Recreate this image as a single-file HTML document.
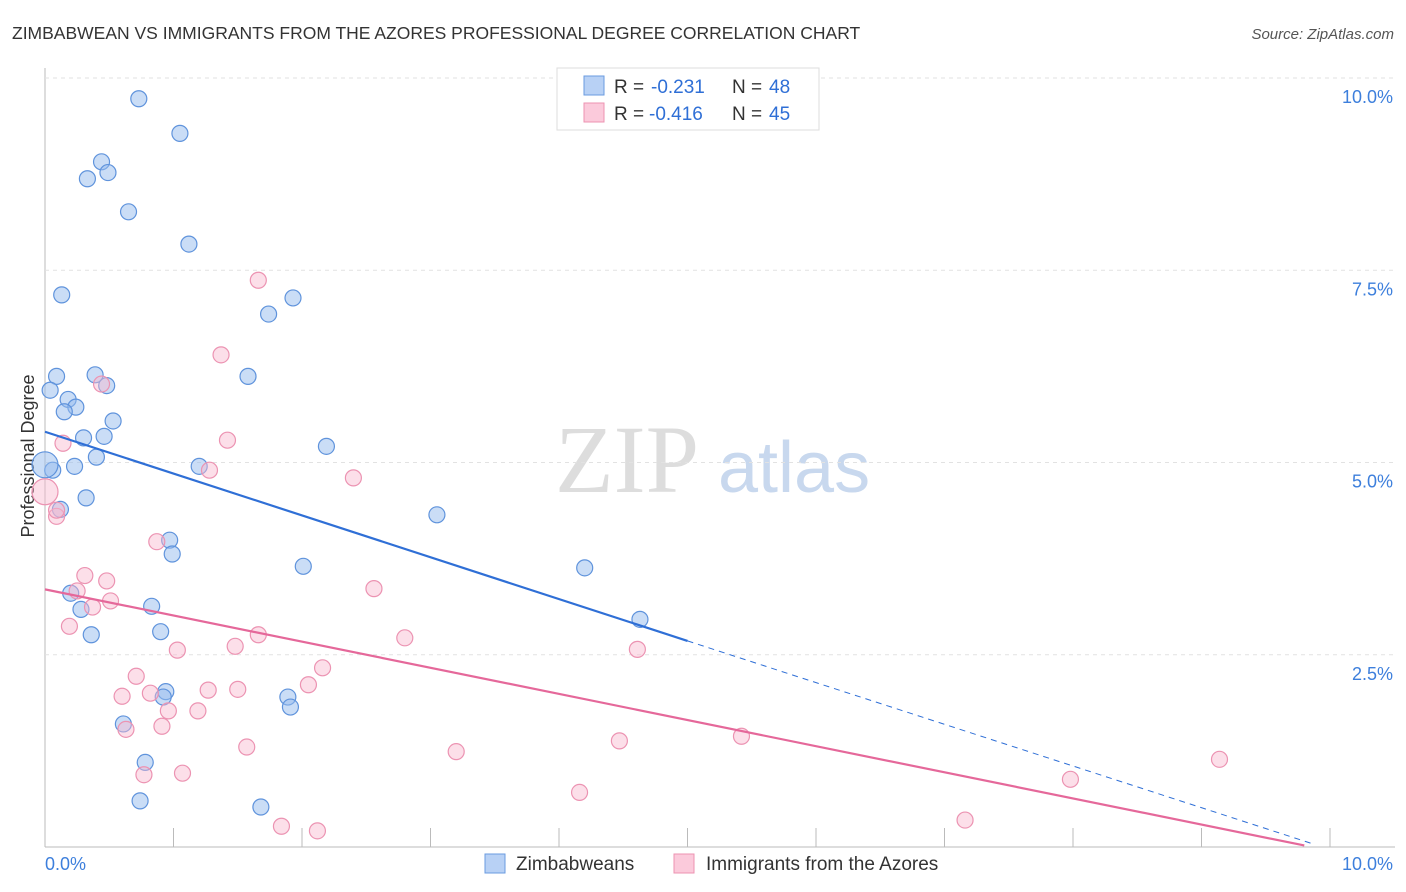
<!DOCTYPE html>
<html><head><meta charset="utf-8"><style>
body{margin:0;background:#fff;font-family:"Liberation Sans",sans-serif}
svg{display:block}
</style></head><body>
<svg id="chart" width="1406" height="892">
<text x="12" y="39" font-size="17.5" fill="#333">ZIMBABWEAN VS IMMIGRANTS FROM THE AZORES PROFESSIONAL DEGREE CORRELATION CHART</text>
<text x="1394" y="39" font-size="15" fill="#555" text-anchor="end" font-style="italic">Source: ZipAtlas.com</text>
<text x="555" y="492" font-size="96" fill="#ddd" font-family="Liberation Serif">ZIP</text>
<text x="718" y="492" font-size="72" fill="#c8d8ee">atlas</text>
<text transform="translate(34,456) rotate(-90)" font-size="18" fill="#333" text-anchor="middle">Professional Degree</text>
<g id="grid"></g><g id="pts"></g><g id="lines"></g>
<g>
<rect x="557" y="68" width="262" height="62" fill="#fff" stroke="#ddd"/>
<rect x="584" y="76" width="20" height="19" fill="#b8d1f5" stroke="#6a9be0"/>
<rect x="584" y="103" width="20" height="19" fill="#fbcadb" stroke="#ec93b2"/>
<text x="614" y="93" font-size="19" fill="#333">R =</text>
<text x="651" y="93" font-size="19" fill="#2f6fd6">-0.231</text>
<text x="732" y="93" font-size="19" fill="#333">N =</text>
<text x="769" y="93" font-size="19" fill="#2f6fd6">48</text>
<text x="614" y="120" font-size="19" fill="#333">R =</text>
<text x="649" y="120" font-size="19" fill="#2f6fd6">-0.416</text>
<text x="732" y="120" font-size="19" fill="#333">N =</text>
<text x="769" y="120" font-size="19" fill="#2f6fd6">45</text>
</g>
<g>
<rect x="485" y="854" width="20" height="19" fill="#b8d1f5" stroke="#6a9be0"/>
<text x="516" y="870" font-size="19" fill="#333">Zimbabweans</text>
<rect x="674" y="854" width="20" height="19" fill="#fbcadb" stroke="#ec93b2"/>
<text x="706" y="870" font-size="19" fill="#333">Immigrants from the Azores</text>
</g>
</svg>
<script>
const blueX=[0.73,1.05,0.44,0.33,0.49,0.65,1.12,0.13,1.93,1.74,0.09,0.39,0.48,0.04,0.18,0.24,0.15,0.53,0.30,0.46,2.19,0.40,0.23,0.06,1.20,0.32,0.12,3.05,0.97,0.99,2.01,4.20,0.20,0.28,0.83,4.63,0.36,0.90,0.94,0.92,1.89,1.91,0.61,0.78,0.74,1.68,1.58,0.0];
const blueY=[9.73,9.28,8.91,8.69,8.77,8.26,7.84,7.18,7.14,6.93,6.12,6.14,6.00,5.94,5.82,5.72,5.66,5.54,5.32,5.34,5.21,5.07,4.95,4.90,4.95,4.54,4.39,4.32,3.99,3.81,3.65,3.63,3.30,3.09,3.13,2.96,2.76,2.80,2.02,1.95,1.95,1.82,1.60,1.10,0.60,0.52,6.12,4.97];
const pinkX=[1.66,1.37,0.44,1.42,0.14,1.28,2.40,0.09,0.09,0.0,0.87,0.31,0.48,0.25,2.56,0.51,0.37,0.19,1.66,2.80,1.03,1.48,4.61,0.71,2.16,2.05,0.60,0.82,1.27,1.50,0.96,1.19,0.91,0.63,1.57,4.47,5.42,3.20,9.14,0.77,1.07,7.98,4.16,7.16,1.84,2.12];
const pinkY=[7.37,6.40,6.02,5.29,5.25,4.90,4.80,4.30,4.38,4.62,3.97,3.53,3.46,3.33,3.36,3.20,3.12,2.87,2.76,2.72,2.56,2.61,2.57,2.22,2.33,2.11,1.96,2.00,2.04,2.05,1.77,1.77,1.57,1.53,1.30,1.38,1.44,1.24,1.14,0.94,0.96,0.88,0.71,0.35,0.27,0.21];
const blueSize=[];blueSize[47]=13;
const pinkSize=[];pinkSize[9]=13;
const xTicks=[0,1,2,3,4,5,6,7,8,9,10];
const yTicks=[2.5,5.0,7.5,10.0];
const X=v=>45+v*128.5, Y=v=>847-v*76.9;
const NS="http://www.w3.org/2000/svg";
function mk(t,a,p){const e=document.createElementNS(NS,t);for(const k in a)e.setAttribute(k,a[k]);p.appendChild(e);return e;}
const g=document.getElementById('grid'),pts=document.getElementById('pts'),ln=document.getElementById('lines');
mk('line',{x1:45,y1:68,x2:45,y2:847,stroke:'#bbb'},g);
mk('line',{x1:45,y1:847,x2:1395,y2:847,stroke:'#bbb'},g);
yTicks.forEach(v=>{
 const l=mk('line',{x1:45,x2:1395,y1:Y(v),y2:Y(v),stroke:'#e2e2e2','stroke-dasharray':'4,4'},g);
 
 
 const t=mk('text',{x:1393,y:Y(v)+25,'font-size':18,fill:'#3d7fdc','text-anchor':'end'},g);
 t.textContent=v.toFixed(1)+'%';
 
 
});
xTicks.forEach(v=>{
 const l=mk('line',{x1:X(v),x2:X(v),y1:828,y2:847,stroke:'#bbb'},g);
 
 
});
[[0,'0.0%','start',45],[10,'10.0%','end',1393]].forEach(([v,s,a,x])=>{
 const t=mk('text',{x:x,y:870,'font-size':18,fill:'#3d7fdc','text-anchor':a},g);
 t.textContent=s;
 
 
});
blueX.forEach((v,i)=>{
 const c=mk('circle',{cx:X(v),cy:Y(blueY[i]),r:blueSize[i]||8,fill:'rgba(150,187,238,0.5)',stroke:'#5f93dc','stroke-width':1.2},pts);
 
 
});
pinkX.forEach((v,i)=>{
 const c=mk('circle',{cx:X(v),cy:Y(pinkY[i]),r:pinkSize[i]||8,fill:'rgba(249,185,207,0.45)',stroke:'#ec93b2','stroke-width':1.2},pts);
 
 
});
const bl=mk('line',{x1:X(0),y1:Y(5.4),x2:X(5.0),y2:Y(2.68),stroke:'#2f6fd6','stroke-width':2.2},ln);


const bd=mk('line',{x1:X(5.0),y1:Y(2.68),x2:X(9.85),y2:Y(0.05),stroke:'#2f6fd6','stroke-width':1,'stroke-dasharray':'6,5'},ln);


const pl=mk('line',{x1:X(0),y1:Y(3.35),x2:X(9.8),y2:Y(0.02),stroke:'#e5689a','stroke-width':2.2},ln);


</script>
</body></html>
